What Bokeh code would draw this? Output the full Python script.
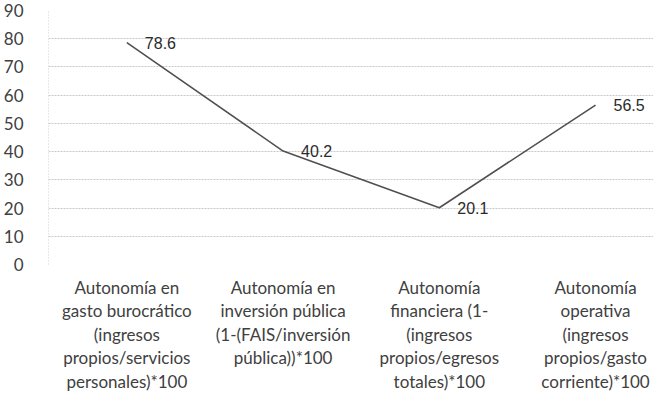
from bokeh.plotting import figure
from bokeh.models import Range1d, FixedTicker, ColumnDataSource, LabelSet
from bokeh.core.properties import value
from bokeh.embed import file_html
from bokeh.resources import INLINE

categories = [
    "Autonomía en\ngasto burocrático\n(ingresos\npropios/servicios\npersonales)*100",
    "Autonomía en\ninversión pública\n(1-(FAIS/inversión\npública))*100",
    "Autonomía\nfinanciera (1-\n(ingresos\npropios/egresos\ntotales)*100",
    "Autonomía\noperativa\n(ingresos\npropios/gasto\ncorriente)*100",
]
values = [78.6, 40.2, 20.1, 56.5]
y_ticks = [0, 10, 20, 30, 40, 50, 60, 70, 80, 90]

xs = list(range(len(categories)))
src = ColumnDataSource(dict(x=xs, y=values, lab=[f"{v:.1f}" for v in values]))

p = figure(width=653, height=398, output_backend="svg", toolbar_location=None,
           x_range=Range1d(-0.5016, 3.371), y_range=Range1d(0, 90),
           min_border_left=43, min_border_right=0, min_border_top=10, min_border_bottom=134)
p.outline_line_color = None
p.background_fill_color = "white"

p.line("x", "y", source=src, line_color="#505050", line_width=1.6)
labels = LabelSet(x="x", y="y", text="lab", source=src, x_offset=18, y_offset=0,
                  text_baseline="middle", text_font=value("Liberation Sans"),
                  text_font_size="16px", text_color="#2a2a2a")
p.add_layout(labels)

p.xgrid.grid_line_color = None
p.ygrid.grid_line_color = "#c8c8c8"
p.ygrid.grid_line_dash = "2 1"
p.ygrid.ticker = FixedTicker(ticks=y_ticks)

p.yaxis.ticker = FixedTicker(ticks=y_ticks)
p.yaxis.axis_line_color = "#d0d0d0"
p.yaxis.axis_line_dash = "1 2"
p.yaxis.major_tick_line_color = None
p.yaxis.minor_tick_line_color = None
p.yaxis.major_label_standoff = 19
p.yaxis.major_label_text_font = "Lato"
p.yaxis.major_label_text_font_size = "17px"
p.yaxis.major_label_text_color = "#404040"

p.xaxis.ticker = FixedTicker(ticks=xs)
p.xaxis.major_label_overrides = {i: c for i, c in enumerate(categories)}
p.xaxis.axis_line_color = None
p.xaxis.major_tick_line_color = None
p.xaxis.minor_tick_line_color = None
p.xaxis.major_label_standoff = 6
p.xaxis.major_label_text_line_height = 1.12
p.xaxis.major_label_text_font = "Lato"
p.xaxis.major_label_text_font_size = "17px"
p.xaxis.major_label_text_color = "#404040"

open("out.html", "w").write(file_html(p, INLINE))
